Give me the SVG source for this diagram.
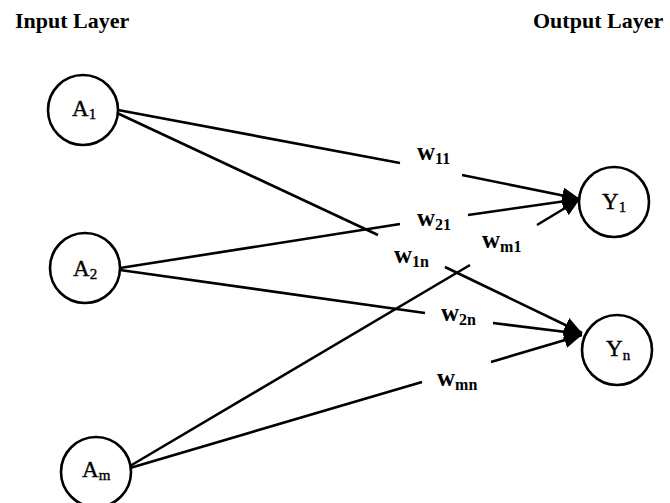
<svg xmlns="http://www.w3.org/2000/svg" width="670" height="503" viewBox="0 0 670 503">
  <style>
    .node { fill: #ffffff; stroke: #000000; stroke-width: 2.6; }
    .edge { fill: none; stroke: #000000; stroke-width: 2.6; marker-end: url(#head); }
    .title { font-family: "Liberation Serif", "Times New Roman", serif; font-size: 22px; font-weight: bold; fill: #000; }
    .lbl { font-family: "Liberation Serif", "Times New Roman", serif; font-size: 23px; fill: #000; stroke: #000; stroke-width: 0.4; }
    .sub { font-size: 15px; }
    .wt { font-family: "Liberation Serif", "Times New Roman", serif; font-size: 25px; font-weight: bold; fill: #000; }
    .wsub { font-size: 16px; }
  </style>
  <defs>
    <marker id="head" markerUnits="userSpaceOnUse" markerWidth="18" markerHeight="16" refX="18" refY="8" orient="auto">
      <path d="M0,0 L18,8 L0,16 z" fill="#000"/>
    </marker>
  </defs>
  <rect width="670" height="503" fill="#ffffff"/>

  <text class="title" x="15" y="28">Input Layer</text>
  <text class="title" x="533" y="28">Output Layer</text>

  <g id="connectors">
    <path class="edge" d="M118,110 L400,163 M462,175 L580,199"/>
    <path class="edge" d="M117,113 L378,235 M445,267 L582,333"/>
    <path class="edge" d="M120,268 L400,224 M468,215 L580,199"/>
    <path class="edge" d="M120,270 L425,313 M493,323 L582,334"/>
    <path class="edge" d="M130,466 L470,265 M537,225 L580,199"/>
    <path class="edge" d="M130,468 L422,382 M491,362 L582,335"/>
  </g>

  <g id="weights">
    <text class="wt" x="417" y="160">w<tspan class="wsub" dy="4">11</tspan></text>
    <text class="wt" x="417" y="226">w<tspan class="wsub" dy="4">21</tspan></text>
    <text class="wt" x="394" y="263">w<tspan class="wsub" dy="4">1n</tspan></text>
    <text class="wt" x="482" y="248">w<tspan class="wsub" dy="4">m1</tspan></text>
    <text class="wt" x="441" y="321">w<tspan class="wsub" dy="4">2n</tspan></text>
    <text class="wt" x="437" y="386">w<tspan class="wsub" dy="4">mn</tspan></text>
  </g>

  <g id="A1">
    <circle class="node" cx="83" cy="110" r="35"/>
    <text class="lbl" x="72" y="116">A<tspan class="sub" dy="3">1</tspan></text>
  </g>
  <g id="A2">
    <circle class="node" cx="85" cy="268" r="35"/>
    <text class="lbl" x="73" y="276">A<tspan class="sub" dy="3">2</tspan></text>
  </g>
  <g id="Am">
    <circle class="node" cx="96" cy="472" r="35"/>
    <text class="lbl" x="82" y="477">A<tspan class="sub" dy="3">m</tspan></text>
  </g>
  <g id="Y1">
    <circle class="node" cx="614" cy="202" r="35"/>
    <text class="lbl" x="602" y="209">Y<tspan class="sub" dy="3">1</tspan></text>
  </g>
  <g id="Yn">
    <circle class="node" cx="617" cy="350" r="35"/>
    <text class="lbl" x="606" y="356">Y<tspan class="sub" dy="4">n</tspan></text>
  </g>
</svg>
